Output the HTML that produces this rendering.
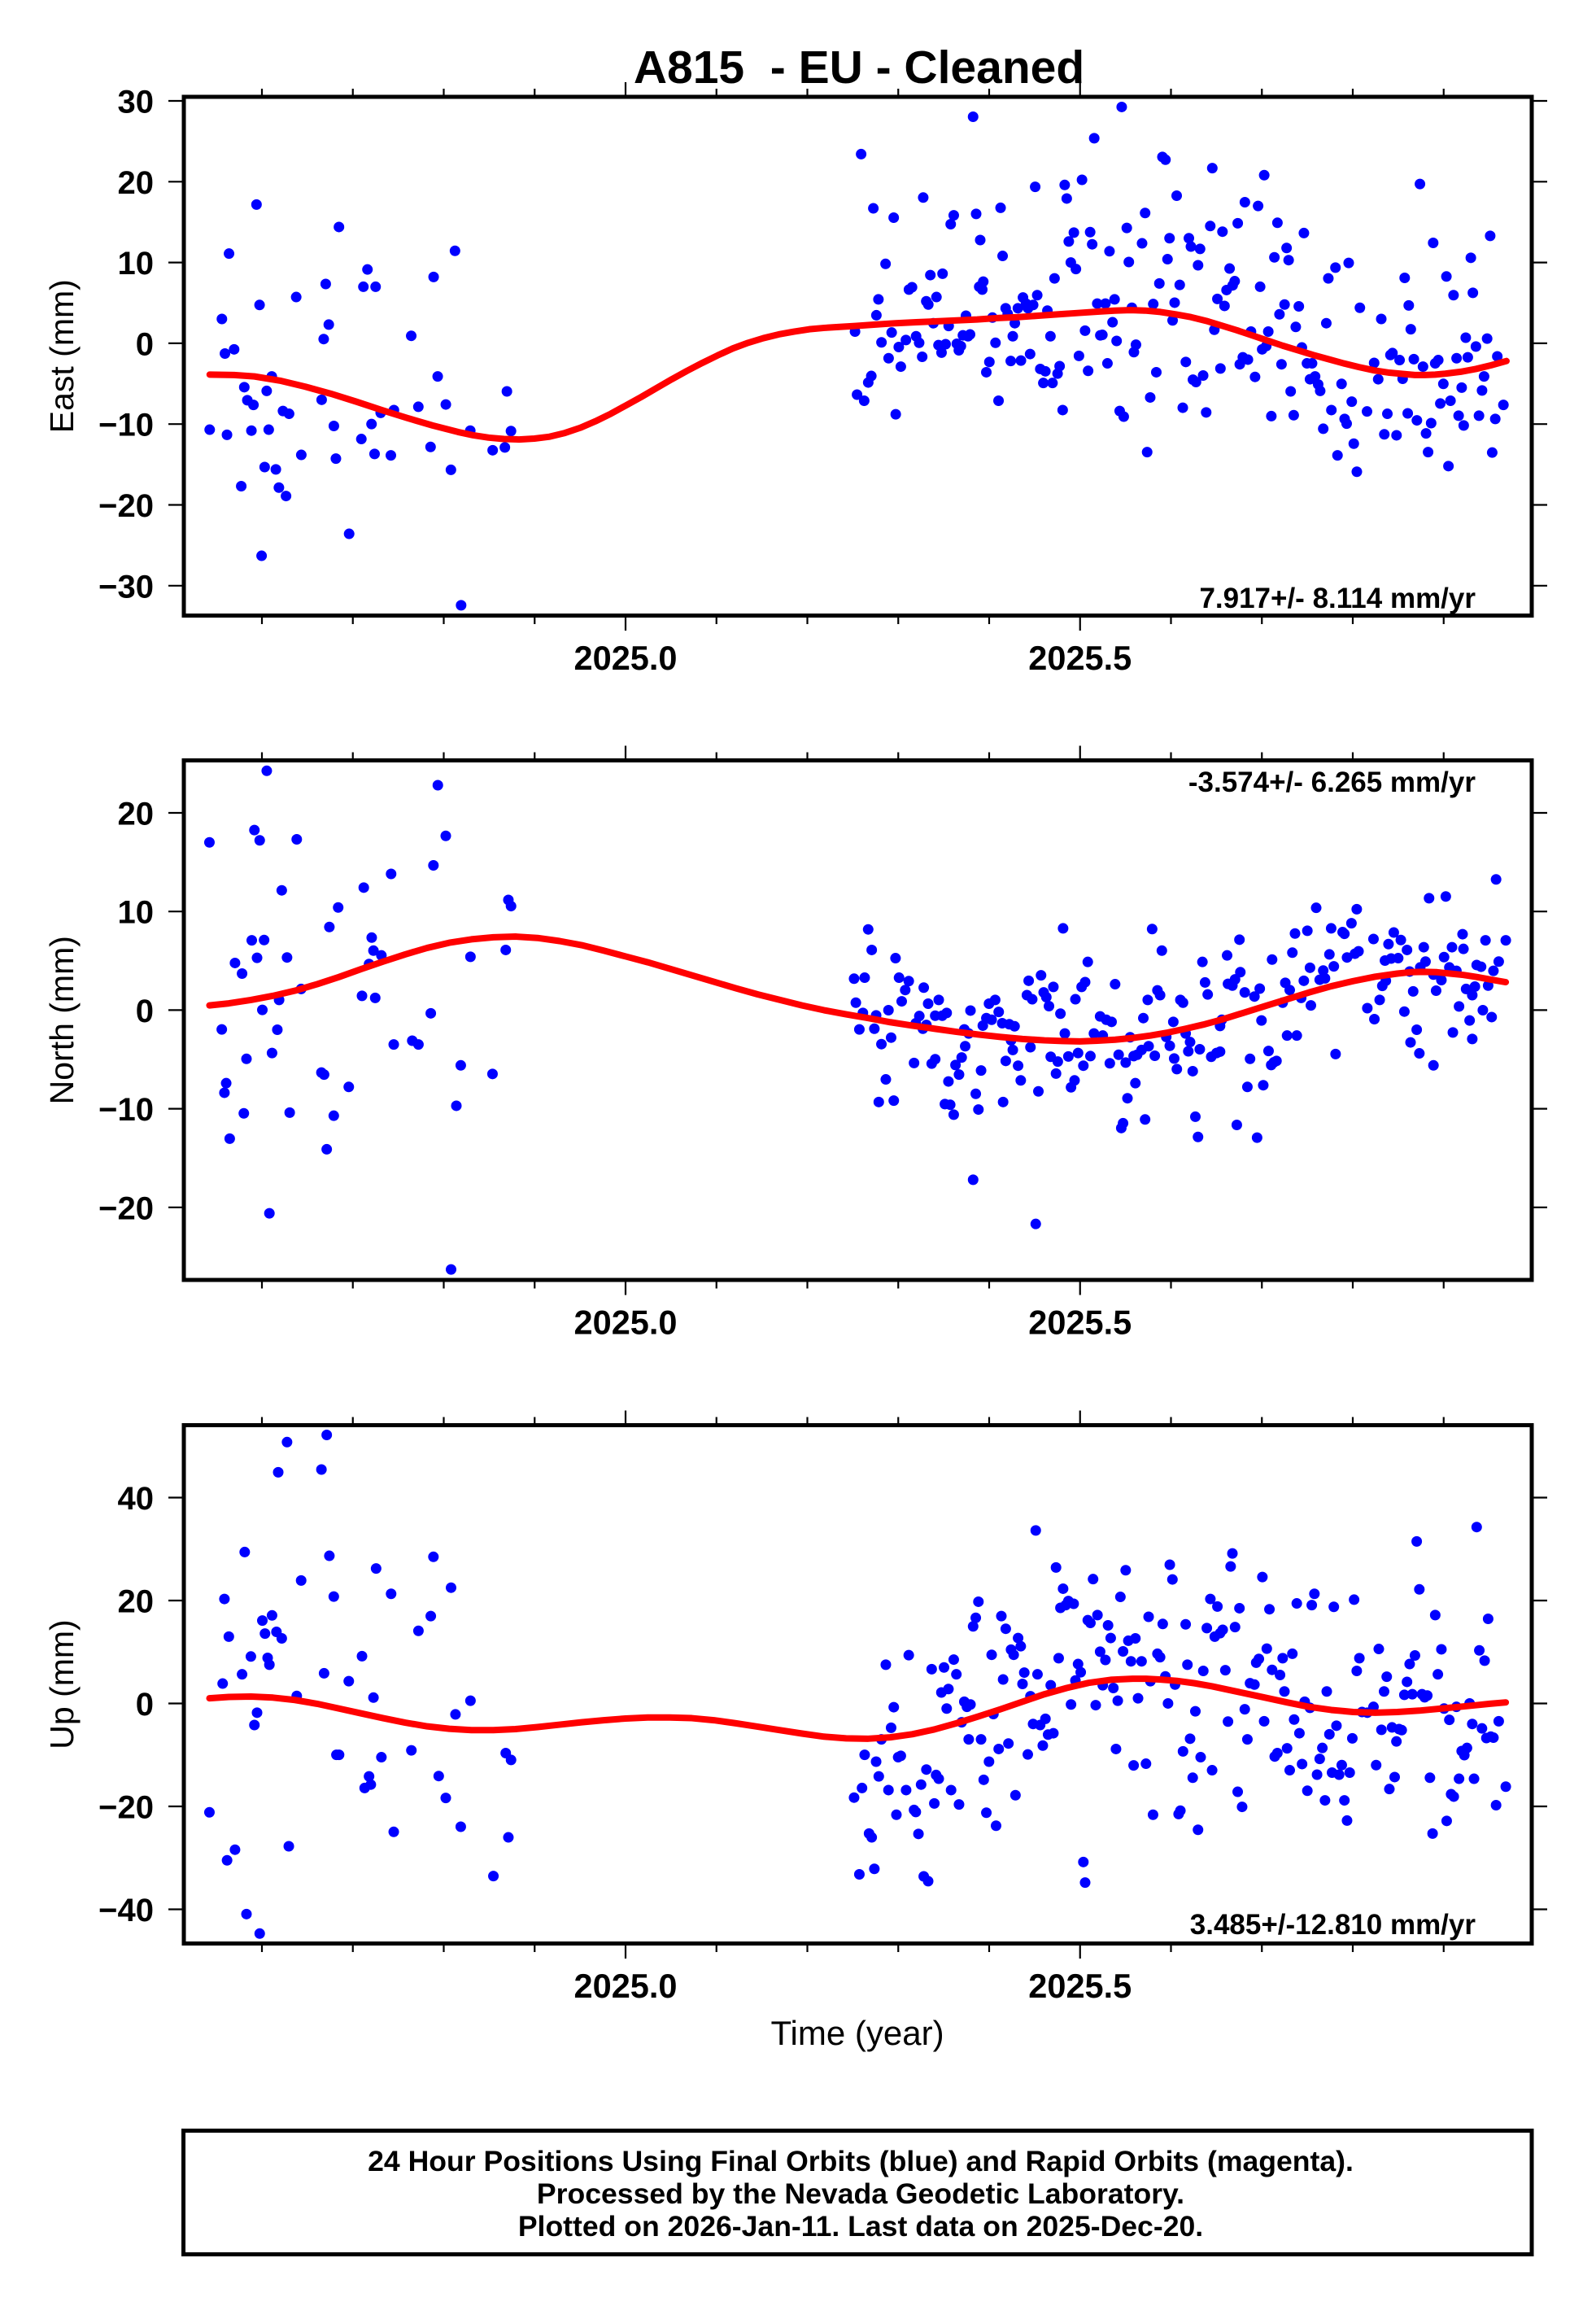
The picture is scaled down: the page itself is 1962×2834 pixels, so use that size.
<!DOCTYPE html>
<html><head><meta charset="utf-8"><style>
html,body{margin:0;padding:0;background:#fff}
svg{display:block}
text{font-family:"Liberation Sans",Arial,sans-serif;fill:#000}
.b{font-weight:bold}
.dots{fill:none;stroke:#0000ff;stroke-width:13;stroke-linecap:round}
.curve{fill:none;stroke:#ff0000;stroke-width:8;stroke-linejoin:round;stroke-linecap:round}
.fr{fill:none;stroke:#000;stroke-width:5}
.tk{stroke:#000;stroke-width:2.2}
</style></head><body>
<svg width="1962" height="2834" viewBox="0 0 1962 2834" xmlns="http://www.w3.org/2000/svg">
<rect width="1962" height="2834" fill="#fff"/>

<!-- Title -->
<text class="b" x="1056" y="102" font-size="57" text-anchor="middle" style="white-space:pre">A815  - EU - Cleaned</text>

<!-- ===== Panel 1 (East) ===== -->
<g transform="scale(1.2513 0.57398)">
<path class="dots" vector-effect="non-scaling-stroke" d="M206 920h.01M218 683h.01M221 757h.01M225 543h.01M223 931h.01M230 748h.01M237 1041h.01M240 829h.01M243 857h.01M249 867h.01M247 922h.01M252 438h.01M255 653h.01M257 1190h.01M260 1000h.01M262 837h.01M264 920h.01M267 806h.01M271 1005h.01M274 1044h.01M278 880h.01M281 1062h.01M284 886h.01M291 636h.01M296 974h.01M316 856h.01M318 726h.01M320 608h.01M323 695h.01M328 912h.01M330 982h.01M333 486h.01M343 1143h.01M355 940h.01M357 614h.01M361 577h.01M365 908h.01M368 972h.01M369 614h.01M374 884h.01M384 975h.01M387 878h.01M404 719h.01M411 871h.01M423 957h.01M426 593h.01M430 806h.01M438 866h.01M443 1006h.01M447 537h.01M453 1296h.01M462 922h.01M484 964h.01M496 958h.01M498 838h.01M502 923h.01
M840 710h.01M842 845h.01M846 330h.01M849 858h.01M853 819h.01M856 805h.01M858 446h.01M861 675h.01M863 641h.01M866 733h.01M870 565h.01M873 767h.01M876 712h.01M878 466h.01M880 887h.01M883 743h.01M885 785h.01M890 728h.01M893 620h.01M896 615h.01M900 720h.01M903 734h.01M906 764h.01M907 423h.01M910 645h.01M912 652h.01M914 589h.01M917 692h.01M920 636h.01M922 739h.01M925 755h.01M926 586h.01M929 737h.01M932 698h.01M934 480h.01M937 461h.01M940 736h.01M942 750h.01M944 741h.01M946 718h.01M949 676h.01M951 720h.01M953 716h.01M956 250h.01M959 458h.01M962 614h.01M963 514h.01M965 620h.01M966 603h.01M969 797h.01M972 775h.01M975 680h.01M978 734h.01M981 858h.01M983 445h.01M985 548h.01M988 660h.01M990 672h.01M993 773h.01M995 720h.01M997 692h.01M1000 660h.01M1003 772h.01M1005 637h.01M1008 650h.01M1010 660h.01M1012 758h.01M1015 653h.01M1017 400h.01M1019 632h.01M1022 790h.01M1025 820h.01M1027 795h.01M1029 665h.01M1032 720h.01M1034 820h.01M1036 596h.01M1039 800h.01M1041 784h.01M1044 878h.01M1046 396h.01M1048 425h.01M1050 517h.01M1052 562h.01M1055 498h.01M1057 576h.01M1060 762h.01M1063 385h.01M1066 708h.01M1069 794h.01M1071 497h.01M1073 523h.01M1075 296h.01M1078 650h.01M1081 718h.01M1083 717h.01M1086 650h.01M1088 778h.01M1090 538h.01M1093 690h.01M1095 641h.01M1097 730h.01M1100 880h.01M1102 229h.01M1104 892h.01M1107 488h.01M1109 561h.01M1112 659h.01M1114 754h.01M1116 738h.01M1122 521h.01M1125 456h.01M1127 968h.01M1130 851h.01M1133 651h.01M1136 797h.01M1139 607h.01M1142 336h.01M1145 342h.01M1147 555h.01M1149 510h.01M1152 686h.01M1154 648h.01M1156 419h.01M1159 610h.01M1162 873h.01M1165 775h.01M1168 510h.01M1170 528h.01M1172 813h.01M1175 818h.01M1177 568h.01M1179 533h.01M1182 804h.01M1185 883h.01M1189 484h.01M1191 360h.01M1193 706h.01M1196 640h.01M1199 789h.01M1201 496h.01M1203 655h.01M1205 621h.01M1208 575h.01M1211 611h.01M1213 602h.01M1216 478h.01M1218 780h.01M1221 765h.01M1223 433h.01M1226 770h.01M1229 710h.01M1233 807h.01M1236 441h.01M1238 614h.01M1240 748h.01M1242 375h.01M1244 741h.01M1246 710h.01M1249 891h.01M1252 551h.01M1255 477h.01M1257 673h.01M1259 780h.01M1262 652h.01M1264 531h.01M1266 557h.01M1268 838h.01M1271 889h.01M1273 700h.01M1276 656h.01M1279 744h.01M1281 499h.01M1284 778h.01M1287 812h.01M1289 778h.01M1292 806h.01M1295 823h.01M1297 837h.01M1300 918h.01M1303 692h.01M1305 596h.01M1308 878h.01M1312 573h.01M1314 975h.01M1318 822h.01M1321 897h.01M1323 907h.01M1325 563h.01M1328 860h.01M1330 950h.01M1333 1010h.01M1336 659h.01M1343 881h.01M1350 777h.01M1354 812h.01M1357 683h.01M1360 930h.01M1363 886h.01M1366 760h.01M1368 756h.01M1372 932h.01M1375 771h.01M1378 811h.01M1380 595h.01M1383 885h.01M1384 654h.01M1386 705h.01M1389 769h.01M1392 900h.01M1395 394h.01M1398 785h.01M1401 928h.01M1403 968h.01M1406 906h.01M1408 520h.01M1410 778h.01M1413 771h.01M1415 864h.01M1418 822h.01M1421 592h.01M1423 998h.01M1425 858h.01M1428 632h.01M1431 767h.01M1433 890h.01M1436 830h.01M1438 911h.01M1440 723h.01M1442 765h.01M1445 552h.01M1447 627h.01M1450 742h.01M1453 890h.01M1456 836h.01M1458 806h.01M1461 725h.01M1464 505h.01M1466 969h.01M1469 897h.01M1471 763h.01M1477 867h.01"/>
<polyline class="curve" vector-effect="non-scaling-stroke" points="206,802 230,803 250,806 275,815 300,828 325,843 350,860 375,878 400,895 425,911 450,925 465,932 480,937 495,940 510,941 525,939 540,935 555,927 570,916 585,902 600,886 615,868 630,850 645,831 660,812 675,794 690,777 705,761 720,746 735,734 750,724 765,716 780,710 795,705 810,702 825,700 840,698 860,695 880,692 900,690 920,688 940,686 960,684 980,681 1000,679 1020,676 1040,673 1060,670 1080,667 1095,665 1110,664 1125,665 1140,668 1155,673 1170,679 1185,687 1200,697 1215,707 1230,718 1245,729 1260,740 1275,750 1290,760 1305,769 1320,778 1335,786 1350,793 1365,798 1380,801 1390,803 1400,803 1410,802 1420,800 1435,796 1450,790 1465,782 1480,773"/>
</g>
<rect class="fr" x="226" y="119" width="1657" height="637.5"/>
<g class="tk">
<path d="M207 124H226M207 223.3H226M207 322.6H226M207 421.9H226M207 521.2H226M207 620.5H226M207 719.8H226M1883 124H1902M1883 223.3H1902M1883 322.6H1902M1883 421.9H1902M1883 521.2H1902M1883 620.5H1902M1883 719.8H1902"/>
<path d="M322 119V109M433.75 119V109M545.5 119V109M657.25 119V109M769 119V101M880.75 119V109M992.5 119V109M1104.25 119V109M1216 119V109M1327.75 119V101M1439.5 119V109M1551.25 119V109M1663 119V109M1774.75 119V109"/>
<path d="M322 756.5V767M433.75 756.5V767M545.5 756.5V767M657.25 756.5V767M769 756.5V775M880.75 756.5V767M992.5 756.5V767M1104.25 756.5V767M1216 756.5V767M1327.75 756.5V775M1439.5 756.5V767M1551.25 756.5V767M1663 756.5V767M1774.75 756.5V767"/>
</g>
<g class="b" font-size="40" text-anchor="end">
<text x="189" y="138.5">30</text>
<text x="189" y="237.8">20</text>
<text x="189" y="337.1">10</text>
<text x="189" y="436.4">0</text>
<text x="189" y="535.7">−10</text>
<text x="189" y="635">−20</text>
<text x="189" y="734.3">−30</text>
</g>
<g class="b" font-size="41.5" text-anchor="middle">
<text x="769" y="823">2025.0</text>
<text x="1327.75" y="823">2025.5</text>
</g>
<text x="0" y="0" font-size="41" text-anchor="middle" transform="translate(90 437.75) rotate(-90)">East (mm)</text>
<text class="b" x="1814" y="747" font-size="35" text-anchor="end">7.917+/- 8.114 mm/yr</text>

<!-- ===== Panel 2 (North) ===== -->
<g transform="translate(200 925) scale(1.0841 0.42091)">
<path class="dots" vector-effect="non-scaling-stroke" d="M53 262h.01M118 53h.01M104 226h.01M110 256h.01M152 253h.01M312 95h.01M321 243h.01M307 329h.01M259 354h.01M228 394h.01M135 402h.01M199 452h.01M392 430h.01M395 448h.01M189 509h.01M237 540h.01M101 548h.01M115 547h.01M82 614h.01M107 599h.01M141 598h.01M239 578h.01M248 592h.01M389 576h.01M349 596h.01M90 645h.01M234 617h.01M157 690h.01M132 722h.01M226 710h.01M241 716h.01M113 751h.01M67 808h.01M130 809h.01M304 761h.01M124 877h.01M95 894h.01M262 852h.01M283 841h.01M290 852h.01M338 913h.01M180 934h.01M183 940h.01M374 938h.01M211 976h.01M72 965h.01M70 993h.01M92 1053h.01M144 1051h.01M194 1060h.01M333 1031h.01M76 1127h.01M186 1158h.01M121 1345h.01M327 1509h.01
M800 516h.01M804 576h.01M831 600h.01M784 660h.01M796 657h.01M835 657h.01M846 667h.01M842 693h.01M863 686h.01M786 730h.01M794 760h.01M809 767h.01M823 752h.01M838 726h.01M868 733h.01M880 722h.01M884 768h.01M889 760h.01M876 768h.01M858 769h.01M854 790h.01M862 806h.01M866 795h.01M790 808h.01M807 806h.01M826 832h.01M815 851h.01M916 753h.01M910 857h.01M909 808h.01M914 820h.01M937 733h.01M944 722h.01M948 757h.01M934 775h.01M940 780h.01M952 790h.01M960 793h.01M966 799h.01M930 797h.01M962 840h.01M964 868h.01M982 666h.01M996 650h.01M1010 684h.01M980 708h.01M986 720h.01M999 700h.01M1002 714h.01M1005 740h.01M1018 762h.01M1021 513h.01M1035 720h.01M1042 684h.01M1046 670h.01M1049 611h.01M1023 820h.01M1007 888h.01M1015 902h.01M1027 887h.01M1038 877h.01M1044 914h.01M1052 886h.01M1056 820h.01M1066 826h.01M1063 770h.01M1070 780h.01M1076 786h.01M1080 676h.01M1084 882h.01M1092 905h.01M1101 886h.01M1105 882h.01M1097 831h.01M1112 775h.01M1117 722h.01M1122 515h.01M1128 694h.01M1131 708h.01M1133 578h.01M1138 830h.01M1142 856h.01M1146 786h.01M1154 722h.01M1157 730h.01M1160 820h.01M1165 845h.01M1163 872h.01M1176 866h.01M1189 888h.01M1195 877h.01M1199 873h.01M1199 798h.01M1201 780h.01M1208 675h.01M1213 680h.01M1216 662h.01M1222 641h.01M1207 592h.01M1179 611h.01M1182 671h.01M1185 706h.01M1221 546h.01M1227 700h.01M1238 712h.01M1244 689h.01M1246 782h.01M1258 604h.01M1270 730h.01M1273 672h.01M1281 584h.01M1284 528h.01M1291 716h.01M1298 520h.01M1301 628h.01M1294 666h.01M1312 663h.01M1316 636h.01M1318 659h.01M1308 453h.01M1323 589h.01M1328 624h.01M1325 513h.01M1338 524h.01M1340 529h.01M1343 598h.01M1348 498h.01M1352 587h.01M1356 580h.01M1354 457h.01M1302 738h.01M1286 826h.01M1275 826h.01M1278 693h.01M1366 746h.01M1374 778h.01M1373 544h.01M1383 681h.01M1380 722h.01M1386 607h.01M1387 666h.01M1390 559h.01M1396 525h.01M1393 601h.01M1401 600h.01M1404 547h.01M1411 576h.01M1414 639h.01M1418 697h.01M1408 756h.01M1430 568h.01M1426 627h.01M1432 610h.01M1436 425h.01M1441 648h.01M1444 695h.01M1450 664h.01M1453 597h.01M1455 420h.01M1459 627h.01M1462 568h.01M1467 637h.01M1470 741h.01M1474 530h.01M1475 573h.01M1478 690h.01M1482 782h.01M1485 708h.01M1488 683h.01M1490 620h.01M1495 625h.01M1497 752h.01M1500 548h.01M1503 680h.01M1507 772h.01M1509 637h.01M1512 370h.01M1515 610h.01M1523 548h.01M1463 817h.01M1485 836h.01M1415 846h.01M1425 878h.01M1441 913h.01M1422 809h.01M1330 880h.01M1248 971h.01M1230 976h.01M1257 912h.01M1260 904h.01M1263 900h.01M1233 894h.01M1254 871h.01M1218 1087h.01M1241 1124h.01M1171 1063h.01M1174 1122h.01M1114 1071h.01M1087 1096h.01M1089 1082h.01M1094 1009h.01M1103 965h.01M1150 924h.01M1168 930h.01M1034 957h.01M1030 977h.01M1013 937h.01M993 989h.01M973 957h.01M970 914h.01M956 900h.01M953 1020h.01M925 1042h.01M928 928h.01M922 996h.01M899 912h.01M903 940h.01M906 890h.01M891 960h.01M887 1026h.01M893 1028h.01M897 1057h.01M872 908h.01M876 895h.01M852 906h.01M820 954h.01M812 1020h.01M829 1016h.01M919 1247h.01M990 1376h.01M1125 885h.01M1118 857h.01M1147 893h.01M1110 868h.01M1074 907h.01M984 860h.01"/>
<polyline class="curve" vector-effect="non-scaling-stroke" points="53,738 75,732 100,722 125,710 150,695 175,676 200,655 225,632 250,610 275,589 300,570 325,555 350,545 375,539 400,537 425,541 450,550 475,562 500,578 525,595 550,612 575,631 600,650 625,669 650,688 675,706 700,722 725,738 750,752 775,764 800,775 825,787 850,797 875,806 900,815 925,823 950,830 975,836 1000,840 1020,842 1040,843 1060,841 1080,838 1100,833 1120,826 1140,817 1160,806 1180,794 1200,780 1225,760 1250,740 1275,720 1300,700 1325,682 1350,667 1375,654 1400,645 1415,641 1430,640 1445,641 1460,645 1475,649 1490,655 1505,662 1523,670"/>
</g>
<rect class="fr" x="226" y="934.5" width="1657" height="638.5"/>
<g class="tk">
<path d="M207 999H226M207 1120.2H226M207 1241.4H226M207 1362.6H226M207 1483.8H226M1883 999H1902M1883 1120.2H1902M1883 1241.4H1902M1883 1362.6H1902M1883 1483.8H1902"/>
<path d="M322 934.5V924.5M433.75 934.5V924.5M545.5 934.5V924.5M657.25 934.5V924.5M769 934.5V916.5M880.75 934.5V924.5M992.5 934.5V924.5M1104.25 934.5V924.5M1216 934.5V924.5M1327.75 934.5V916.5M1439.5 934.5V924.5M1551.25 934.5V924.5M1663 934.5V924.5M1774.75 934.5V924.5"/>
<path d="M322 1573V1583.5M433.75 1573V1583.5M545.5 1573V1583.5M657.25 1573V1583.5M769 1573V1591.5M880.75 1573V1583.5M992.5 1573V1583.5M1104.25 1573V1583.5M1216 1573V1583.5M1327.75 1573V1591.5M1439.5 1573V1583.5M1551.25 1573V1583.5M1663 1573V1583.5M1774.75 1573V1583.5"/>
</g>
<g class="b" font-size="40" text-anchor="end">
<text x="189" y="1013.5">20</text>
<text x="189" y="1134.7">10</text>
<text x="189" y="1255.9">0</text>
<text x="189" y="1377.1">−10</text>
<text x="189" y="1498.3">−20</text>
</g>
<g class="b" font-size="41.5" text-anchor="middle">
<text x="769" y="1639.5">2025.0</text>
<text x="1327.75" y="1639.5">2025.5</text>
</g>
<text x="0" y="0" font-size="41" text-anchor="middle" transform="translate(90 1253.75) rotate(-90)">North (mm)</text>
<text class="b" x="1814" y="973" font-size="35" text-anchor="end">-3.574+/- 6.265 mm/yr</text>

<!-- ===== Panel 3 (Up) ===== -->
<g transform="translate(200 1742) scale(1.0841 0.42091)">
<path class="dots" vector-effect="non-scaling-stroke" d="M53 1153h.01M68 777h.01M70 530h.01M75 640h.01M73 1293h.01M82 1262h.01M90 750h.01M93 393h.01M95 1450h.01M100 698h.01M104 898h.01M107 862h.01M110 1507h.01M113 593h.01M116 631h.01M119 702h.01M121 722h.01M124 578h.01M129 626h.01M135 645h.01M141 72h.01M131 160h.01M143 1252h.01M152 813h.01M157 476h.01M180 152h.01M186 51h.01M189 404h.01M183 747h.01M194 523h.01M197 985h.01M200 985h.01M211 770h.01M226 697h.01M229 1082h.01M234 1048h.01M236 1072h.01M239 818h.01M242 441h.01M248 992h.01M259 515h.01M262 1210h.01M282 972h.01M290 623h.01M304 580h.01M307 407h.01M313 1047h.01M321 1111h.01M327 497h.01M332 867h.01M338 1195h.01M349 827h.01M375 1339h.01M389 980h.01M395 1000h.01M392 1226h.01
M784 1110h.01M790 1334h.01M793 1082h.01M796 985h.01M801 1215h.01M804 1226h.01M807 1318h.01M809 1005h.01M812 1048h.01M815 940h.01M820 722h.01M823 1088h.01M826 906h.01M829 846h.01M832 1160h.01M834 992h.01M837 988h.01M843 1088h.01M846 694h.01M852 1146h.01M854 1152h.01M857 1216h.01M860 1072h.01M863 1340h.01M866 1028h.01M868 1354h.01M872 735h.01M875 1127h.01M877 1044h.01M880 1055h.01M883 803h.01M886 730h.01M889 850h.01M891 793h.01M894 1088h.01M897 707h.01M900 750h.01M903 1130h.01M906 890h.01M909 830h.01M912 845h.01M914 940h.01M916 838h.01M919 610h.01M922 585h.01M925 538h.01M928 940h.01M931 1058h.01M934 1154h.01M937 1005h.01M940 693h.01M942 866h.01M945 1192h.01M948 968h.01M951 580h.01M953 765h.01M956 617h.01M959 952h.01M962 678h.01M965 693h.01M967 1103h.01M970 644h.01M973 668h.01M975 778h.01M977 745h.01M981 984h.01M984 814h.01M987 895h.01M990 330h.01M992 750h.01M995 898h.01M998 958h.01M1001 880h.01M1004 926h.01M1007 782h.01M1010 922h.01M1013 438h.01M1016 703h.01M1018 556h.01M1021 500h.01M1024 548h.01M1027 536h.01M1030 838h.01M1033 544h.01M1035 768h.01M1038 720h.01M1041 744h.01M1044 1298h.01M1046 1358h.01M1049 592h.01M1052 600h.01M1055 472h.01M1058 840h.01M1060 577h.01M1063 684h.01M1066 782h.01M1069 708h.01M1072 607h.01M1075 644h.01M1078 790h.01M1081 968h.01M1083 827h.01M1086 524h.01M1089 683h.01M1092 446h.01M1095 652h.01M1098 712h.01M1101 1016h.01M1103 645h.01M1106 820h.01M1110 712h.01M1115 1011h.01M1118 582h.01M1120 770h.01M1123 1160h.01M1128 690h.01M1131 700h.01M1134 603h.01M1137 756h.01M1140 835h.01M1142 430h.01M1145 473h.01M1148 780h.01M1152 1158h.01M1154 1148h.01M1157 975h.01M1160 604h.01M1162 722h.01M1165 938h.01M1168 1052h.01M1171 858h.01M1174 1204h.01M1177 992h.01M1180 740h.01M1184 615h.01M1188 530h.01M1190 1030h.01M1193 640h.01M1196 552h.01M1199 630h.01M1202 620h.01M1205 738h.01M1208 888h.01M1211 435h.01M1213 397h.01M1216 612h.01M1219 1093h.01M1221 557h.01M1224 1137h.01M1227 852h.01M1230 940h.01M1233 776h.01M1238 780h.01M1240 716h.01M1243 705h.01M1247 466h.01M1249 887h.01M1252 675h.01M1255 560h.01M1258 737h.01M1261 990h.01M1264 980h.01M1267 752h.01M1270 703h.01M1272 800h.01M1275 966h.01M1278 1030h.01M1281 690h.01M1283 882h.01M1286 543h.01M1289 922h.01M1292 1012h.01M1295 830h.01M1298 1090h.01M1301 848h.01M1303 548h.01M1306 515h.01M1309 1043h.01M1312 997h.01M1315 965h.01M1318 1118h.01M1320 800h.01M1323 925h.01M1326 1037h.01M1328 553h.01M1331 900h.01M1334 1043h.01M1337 1015h.01M1340 1118h.01M1343 1177h.01M1346 1037h.01M1349 937h.01M1351 532h.01M1354 740h.01M1357 703h.01M1360 860h.01M1366 862h.01M1373 845h.01M1376 1015h.01M1379 676h.01M1382 912h.01M1385 800h.01M1388 757h.01M1391 1085h.01M1394 905h.01M1397 1050h.01M1399 946h.01M1402 910h.01M1405 913h.01M1408 810h.01M1411 772h.01M1414 720h.01M1417 808h.01M1420 695h.01M1422 362h.01M1425 502h.01M1428 808h.01M1431 817h.01M1434 812h.01M1437 1052h.01M1440 1215h.01M1443 577h.01M1446 750h.01M1450 677h.01M1453 850h.01M1456 1178h.01M1459 883h.01M1461 1100h.01M1464 1107h.01M1467 845h.01M1470 1055h.01M1473 974h.01M1476 986h.01M1479 965h.01M1482 835h.01M1485 895h.01M1487 1055h.01M1490 320h.01M1493 680h.01M1496 908h.01M1499 710h.01M1501 936h.01M1503 588h.01M1506 932h.01M1509 935h.01M1512 1132h.01M1515 887h.01M1523 1078h.01"/>
<polyline class="curve" vector-effect="non-scaling-stroke" points="53,820 75,816 100,815 125,818 150,825 175,836 200,850 225,864 250,878 275,891 300,902 325,909 350,913 375,913 400,910 425,904 450,897 475,890 500,884 525,879 550,876 575,876 600,878 625,884 650,893 675,903 700,913 725,923 750,932 775,937 800,938 825,934 850,925 875,911 900,893 925,873 950,852 975,830 1000,808 1025,790 1050,775 1075,766 1100,763 1115,763 1130,765 1150,769 1170,776 1190,785 1210,796 1230,807 1250,818 1275,832 1300,845 1325,854 1350,860 1375,862 1400,860 1425,856 1450,850 1470,845 1490,840 1505,836 1523,832"/>
</g>
<rect class="fr" x="226" y="1751.5" width="1657" height="637"/>
<g class="tk">
<path d="M207 1840.5H226M207 1967H226M207 2093.5H226M207 2220H226M207 2346.5H226M1883 1840.5H1902M1883 1967H1902M1883 2093.5H1902M1883 2220H1902M1883 2346.5H1902"/>
<path d="M322 1751.5V1741.5M433.75 1751.5V1741.5M545.5 1751.5V1741.5M657.25 1751.5V1741.5M769 1751.5V1733.5M880.75 1751.5V1741.5M992.5 1751.5V1741.5M1104.25 1751.5V1741.5M1216 1751.5V1741.5M1327.75 1751.5V1733.5M1439.5 1751.5V1741.5M1551.25 1751.5V1741.5M1663 1751.5V1741.5M1774.75 1751.5V1741.5"/>
<path d="M322 2388.5V2399M433.75 2388.5V2399M545.5 2388.5V2399M657.25 2388.5V2399M769 2388.5V2407M880.75 2388.5V2399M992.5 2388.5V2399M1104.25 2388.5V2399M1216 2388.5V2399M1327.75 2388.5V2407M1439.5 2388.5V2399M1551.25 2388.5V2399M1663 2388.5V2399M1774.75 2388.5V2399"/>
</g>
<g class="b" font-size="40" text-anchor="end">
<text x="189" y="1855">40</text>
<text x="189" y="1981.5">20</text>
<text x="189" y="2108">0</text>
<text x="189" y="2234.5">−20</text>
<text x="189" y="2361">−40</text>
</g>
<g class="b" font-size="41.5" text-anchor="middle">
<text x="769" y="2455">2025.0</text>
<text x="1327.75" y="2455">2025.5</text>
</g>
<text x="0" y="0" font-size="41" text-anchor="middle" transform="translate(90 2070) rotate(-90)">Up (mm)</text>
<text class="b" x="1814" y="2377" font-size="35" text-anchor="end">3.485+/-12.810 mm/yr</text>
<text x="1054" y="2513" font-size="42" text-anchor="middle">Time (year)</text>

<!-- Footer -->
<rect class="fr" x="225.5" y="2618.5" width="1657.5" height="152"/>
<g class="b" font-size="35.6" text-anchor="middle">
<text x="1058" y="2668">24 Hour Positions Using Final Orbits (blue) and Rapid Orbits (magenta).</text>
<text x="1058" y="2708">Processed by the Nevada Geodetic Laboratory.</text>
<text x="1058" y="2748">Plotted on 2026-Jan-11. Last data on 2025-Dec-20.</text>
</g>
</svg>
</body></html>
